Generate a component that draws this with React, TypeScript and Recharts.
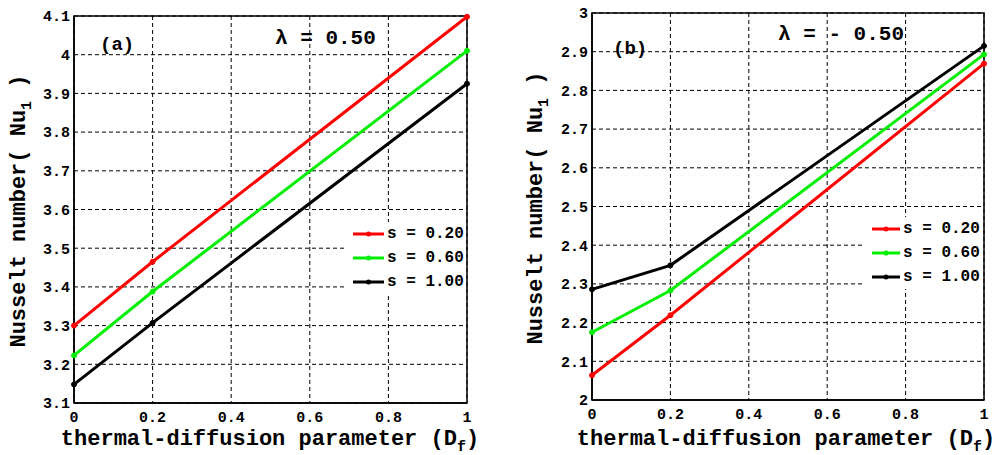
import React from "react"
import {
  CartesianGrid,
  Customized,
  Line,
  LineChart,
  ReferenceArea,
  XAxis,
  YAxis,
} from "recharts"

const xValues = [0, 0.2, 1]
const xTicks = [0, 0.2, 0.4, 0.6, 0.8, 1]

const aRed = [3.3, 3.465, 4.098]
const aGreen = [3.223, 3.388, 4.01]
const aBlack = [3.148, 3.307, 3.925]
const aTicks = [3.1, 3.2, 3.3, 3.4, 3.5, 3.6, 3.7, 3.8, 3.9, 4, 4.1]

const bRed = [2.064, 2.219, 2.869]
const bGreen = [2.175, 2.283, 2.893]
const bBlack = [2.286, 2.348, 2.915]
const bTicks = [2, 2.1, 2.2, 2.3, 2.4, 2.5, 2.6, 2.7, 2.8, 2.9, 3]

const seriesNames = ["s = 0.20", "s = 0.60", "s = 1.00"]
const seriesColors = ["#ff0000", "#00ee00", "#000000"]

const MONO = "'Liberation Mono', 'Courier New', monospace"

function buildRows(red: number[], green: number[], black: number[]) {
  return xValues.map((x, i) => ({ x, s1: red[i], s2: green[i], s3: black[i] }))
}

interface PanelProps {
  left: number
  width: number
  red: number[]
  green: number[]
  black: number[]
  ticks: number[]
  margin: { top: number; right: number; bottom: number; left: number }
  yAxisWidth: number
  tag: string
  tagX: number
  tagY: number
  lambda: string
  lambdaX: number
  lambdaY: number
  yLabelX: number
  yLabelY: number
  xLabelX: number
  legendLeft: number
  legendTop: number
  legendPad: number
  legendLine: number
}

function LegendBox({ left, top, pad, lineLen }: { left: number; top: number; pad: number; lineLen: number }) {
  return (
    <div
      style={{
        position: "absolute",
        left,
        top,
        background: "#fff",
        paddingLeft: pad,
        width: 118 - pad,
      }}
    >
      {seriesNames.map((name, i) => (
        <div key={name} style={{ display: "flex", alignItems: "center", height: 24 }}>
          <svg width={lineLen} height={10} style={{ display: "block" }}>
            <line x1={0} y1={5} x2={lineLen} y2={5} stroke={seriesColors[i]} strokeWidth={3} />
            <circle cx={lineLen / 2} cy={5} r={2.5} fill={seriesColors[i]} />
          </svg>
          <span
            style={{
              marginLeft: 3,
              fontFamily: MONO,
              fontWeight: "bold",
              fontSize: 16,
              color: "#000",
              whiteSpace: "pre",
            }}
          >
            {name}
          </span>
        </div>
      ))}
    </div>
  )
}

function Panel(p: PanelProps) {
  const data = buildRows(p.red, p.green, p.black)
  const lo = p.ticks[0]
  const hi = p.ticks[p.ticks.length - 1]
  const tickStyle = { fontSize: 15, fontFamily: MONO, fontWeight: "bold", fill: "#000" }
  const textStyle = { fontFamily: MONO, fontWeight: "bold", fill: "#000" } as const

  return (
    <div style={{ position: "absolute", left: p.left, top: 0, width: p.width, height: 455 }}>
      <LineChart width={p.width} height={455} data={data} margin={p.margin}>
        <CartesianGrid stroke="#000" strokeDasharray="4 3" strokeWidth={1} />
        <XAxis
          dataKey="x"
          type="number"
          domain={[0, 1]}
          ticks={xTicks}
          tickFormatter={(v) => String(v)}
          height={30}
          tickLine={false}
          tickSize={5}
          tickMargin={3}
          axisLine={{ stroke: "#000", strokeWidth: 1.5 }}
          tick={tickStyle}
        />
        <YAxis
          type="number"
          domain={[lo, hi]}
          ticks={p.ticks}
          tickFormatter={(v) => String(Math.round(v * 10) / 10)}
          width={p.yAxisWidth}
          tickLine={false}
          tickSize={4}
          tickMargin={0}
          axisLine={{ stroke: "#000", strokeWidth: 1.5 }}
          tick={tickStyle}
        />
        <ReferenceArea x1={0} x2={1} y1={lo} y2={hi} fill="none" stroke="#000" strokeWidth={1.5} />
        {["s1", "s2", "s3"].map((key, i) => (
          <Line
            key={key}
            dataKey={key}
            name={seriesNames[i]}
            stroke={seriesColors[i]}
            strokeWidth={3}
            dot={{ r: 2.5, fill: seriesColors[i], stroke: seriesColors[i], strokeWidth: 1 }}
            isAnimationActive={false}
          />
        ))}
        <Customized
          component={() => (
            <g>
              <text x={p.tagX} y={p.tagY} fontSize={19} style={textStyle}>
                {p.tag}
              </text>
              <text x={p.lambdaX} y={p.lambdaY} fontSize={21} style={textStyle}>
                {p.lambda}
              </text>
              <text
                x={p.yLabelX}
                y={p.yLabelY}
                fontSize={22}
                textAnchor="middle"
                transform={`rotate(-90, ${p.yLabelX}, ${p.yLabelY})`}
                style={textStyle}
              >
                Nusselt number( Nu
                <tspan dy={6} fontSize={15}>
                  1
                </tspan>
                <tspan dy={-6}> )</tspan>
              </text>
              <text x={p.xLabelX} y={445} fontSize={22} textAnchor="middle" style={textStyle}>
                thermal-diffusion parameter (D
                <tspan dy={6} fontSize={15}>
                  f
                </tspan>
                <tspan dy={-6}>)</tspan>
              </text>
            </g>
          )}
        />
      </LineChart>
      <LegendBox left={p.legendLeft} top={p.legendTop} pad={p.legendPad} lineLen={p.legendLine} />
    </div>
  )
}

export default function App() {
  return (
    <div style={{ position: "absolute", left: 0, top: 0, width: 998, height: 455, background: "#fff" }}>
      <Panel
        left={0}
        width={500}
        red={aRed}
        green={aGreen}
        black={aBlack}
        ticks={aTicks}
        margin={{ top: 16, right: 33, bottom: 22, left: 0 }}
        yAxisWidth={74}
        tag="(a)"
        tagX={100}
        tagY={50}
        lambda="λ = 0.50"
        lambdaX={275}
        lambdaY={44}
        yLabelX={25}
        yLabelY={211}
        xLabelX={270}
        legendLeft={347}
        legendTop={222}
        legendPad={6}
        legendLine={31}
      />
      <Panel
        left={500}
        width={498}
        red={bRed}
        green={bGreen}
        black={bBlack}
        ticks={bTicks}
        margin={{ top: 13, right: 14, bottom: 25, left: 0 }}
        yAxisWidth={92}
        tag="(b)"
        tagX={113}
        tagY={54}
        lambda="λ = - 0.50"
        lambdaX={278}
        lambdaY={40}
        yLabelX={42}
        yLabelY={208}
        xLabelX={286}
        legendLeft={363}
        legendTop={217}
        legendPad={9}
        legendLine={28}
      />
    </div>
  )
}
